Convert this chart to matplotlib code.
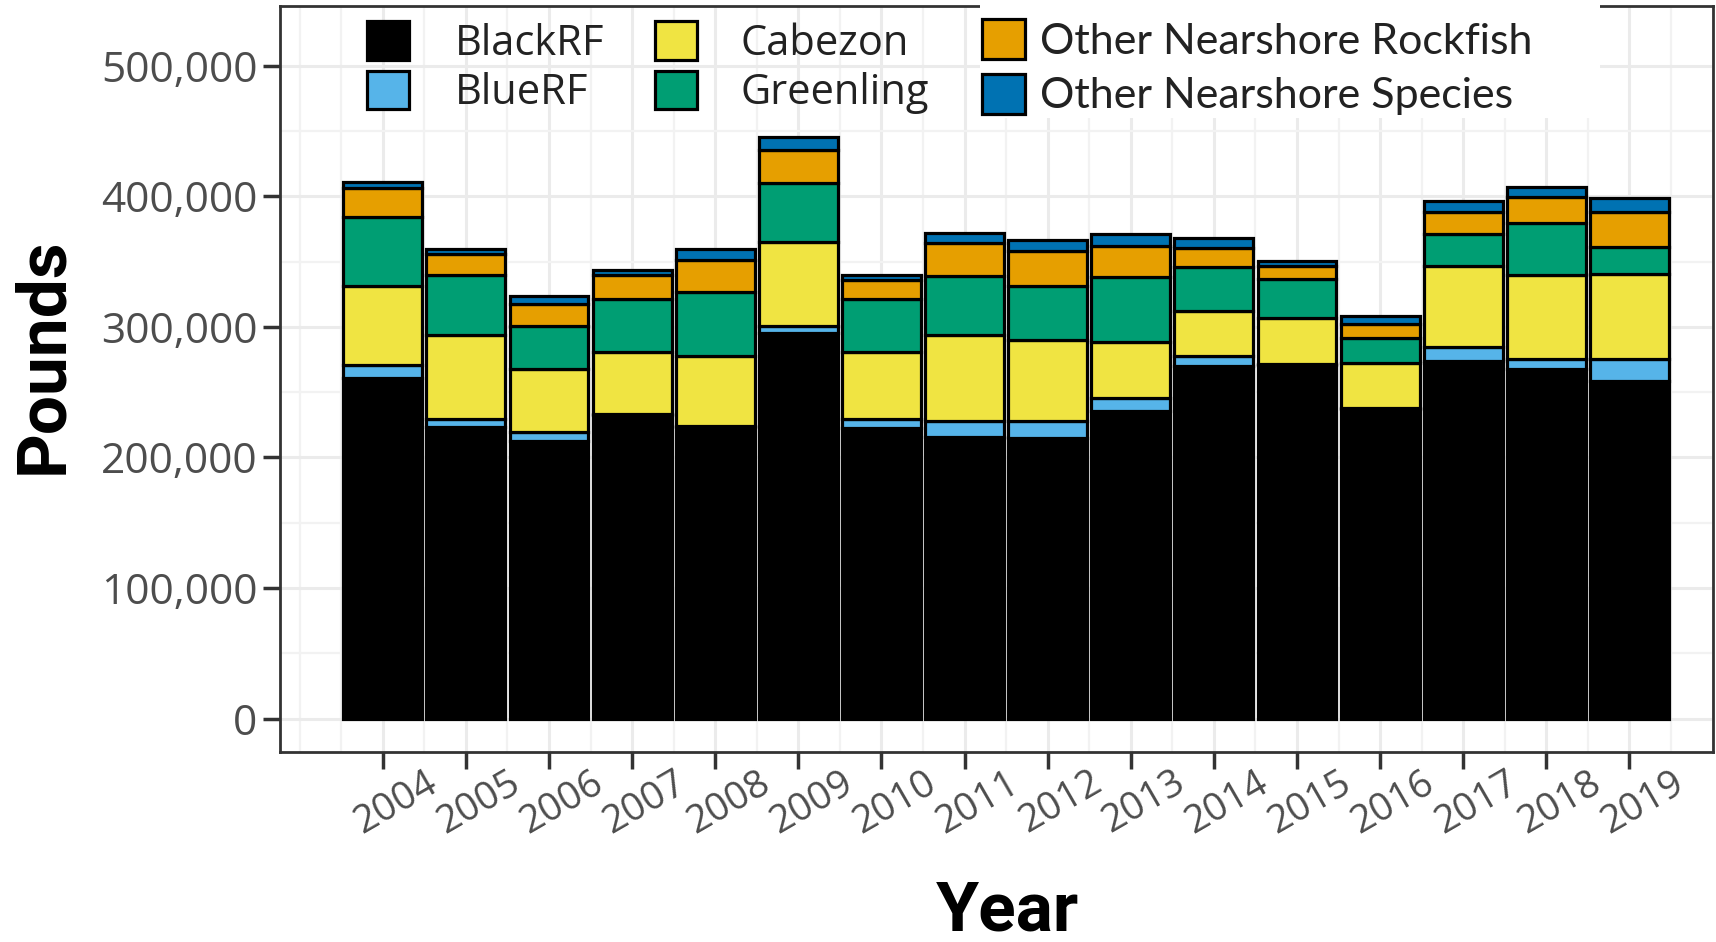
import numpy as np
import matplotlib.pyplot as plt
import matplotlib.transforms as mtransforms
from matplotlib.patches import Patch, Rectangle
from matplotlib.ticker import FuncFormatter, FixedLocator, MultipleLocator

# ---------------- data (pounds) ----------------
years = list(range(2004, 2020))
species = ['BlackRF', 'BlueRF', 'Cabezon', 'Greenling',
           'Other Nearshore Rockfish', 'Other Nearshore Species']
colors = ['#000000', '#56B4E9', '#F0E442', '#009E73', '#E69F00', '#0072B2']

blackrf = [260700, 223200, 212200, 232400, 223000, 295200, 222500, 215600,
           214800, 235700, 270200, 270400, 237200, 274000, 267900, 258700]
bluerf = [10000, 6600, 7200, 800, 800, 5100, 6800, 12500,
          12800, 9700, 7600, 800, 800, 10200, 7600, 16600]
cabezon = [60900, 64100, 48200, 47400, 53500, 64500, 51300, 65300,
           62400, 42900, 34400, 35500, 34200, 62700, 64300, 65000]
greenling = [52300, 45900, 32700, 40900, 49300, 45700, 40600, 45900,
             41600, 49500, 33500, 29600, 19200, 24000, 39500, 20700]
other_rf = [22200, 15800, 17000, 18300, 24700, 25000, 14300, 24700,
            26800, 24200, 14500, 10200, 10400, 16900, 19900, 26800]
other_sp = [4500, 4000, 6400, 4000, 8400, 10200, 4000, 7700,
            8200, 8900, 7700, 4000, 6400, 8900, 8200, 10700]

series = [blackrf, bluerf, cabezon, greenling, other_rf, other_sp]

#------------------------------------------------------------------------------

tick_font = ['Open Sans', 'DejaVu Sans']
title_font = ['Roboto', 'DejaVu Sans']
gray_txt = '#4D4D4D'

fig = plt.figure(figsize=(17.16, 9.42), dpi=100)
ax = fig.add_axes([0.163, 0.202, 0.835, 0.792])

x = np.arange(len(years))
bottom = np.zeros(len(years))
for vals, col in zip(series, colors):
    vals = np.array(vals, dtype=float)
    ax.bar(x, vals, width=0.95, bottom=bottom, color=col,
           edgecolor='black', linewidth=2.3, zorder=3)
    bottom += vals

ax.set_xlim(-1.24, 16.0)
ax.set_ylim(-25400, 546000)

ax.set_xticks(x)
ax.set_xticklabels(years, rotation=30, fontsize=28, color=gray_txt, family=tick_font)
ax.xaxis.set_minor_locator(FixedLocator(np.arange(-1, 16.01, 0.5)))
ax.yaxis.set_major_locator(MultipleLocator(100000))
ax.yaxis.set_minor_locator(FixedLocator(np.arange(50000, 500001, 100000)))
ax.yaxis.set_major_formatter(FuncFormatter(lambda v, p: '{:,.0f}'.format(v)))
for lab in ax.get_yticklabels():
    lab.set_fontsize(30.5)
    lab.set_color(gray_txt)
    lab.set_family(tick_font)

ax.tick_params(axis='both', which='major', length=12, width=2.5, color='#333333', pad=4)
ax.tick_params(axis='both', which='minor', length=0)

# shift the rotated year labels a little right and up
shift = mtransforms.ScaledTranslation(0.13, 0.10, fig.dpi_scale_trans)
for lab in ax.get_xticklabels():
    lab.set_transform(lab.get_transform() + shift)

ax.set_axisbelow(True)
ax.grid(which='major', color='#EBEBEB', linewidth=2.2)
ax.grid(which='minor', color='#F2F2F2', linewidth=1.6)

for sp in ax.spines.values():
    sp.set_color('#333333')
    sp.set_linewidth(2)

fig.text(0.0255, 0.622, 'Pounds', rotation=90, ha='center', va='center',
         fontsize=50, fontweight='bold', family=title_font)
fig.text(0.587, 0.032, 'Year', ha='center', va='center',
         fontsize=50, fontweight='bold', family=title_font)

# legend, three columns placed separately
handles = [Patch(facecolor=c, edgecolor='black', linewidth=2.3) for c in colors]

ax.add_patch(Rectangle((0.4885, 0.849), 0.433, 0.16, transform=ax.transAxes,
                       facecolor='white', edgecolor='none', zorder=4, clip_on=False))

leg_opts = dict(loc='upper left', frameon=False, borderpad=0, borderaxespad=0,
                handlelength=1.0, handleheight=1.05, labelspacing=0.14)
lg1 = ax.legend(handles[0:2], species[0:2], bbox_to_anchor=(0.061, 0.979),
                handletextpad=1.1, prop={'family': tick_font, 'size': 30}, **leg_opts)
ax.add_artist(lg1)
lg2 = ax.legend([handles[2], handles[3]], species[2:4], bbox_to_anchor=(0.262, 0.979),
                handletextpad=1.05, prop={'family': tick_font, 'size': 30}, **leg_opts)
ax.add_artist(lg2)
lg3 = ax.legend([handles[4], handles[5]], species[4:6], bbox_to_anchor=(0.490, 0.982),
                handletextpad=0.35, prop={'family': ['Lato', 'DejaVu Sans'], 'size': 31},
                **dict(leg_opts, labelspacing=0.3))
for lg in (lg1, lg2, lg3):
    for t in lg.get_texts():
        t.set_color('#222222')
    lg.set_zorder(6)

fig.savefig('out.png', dpi=100)
